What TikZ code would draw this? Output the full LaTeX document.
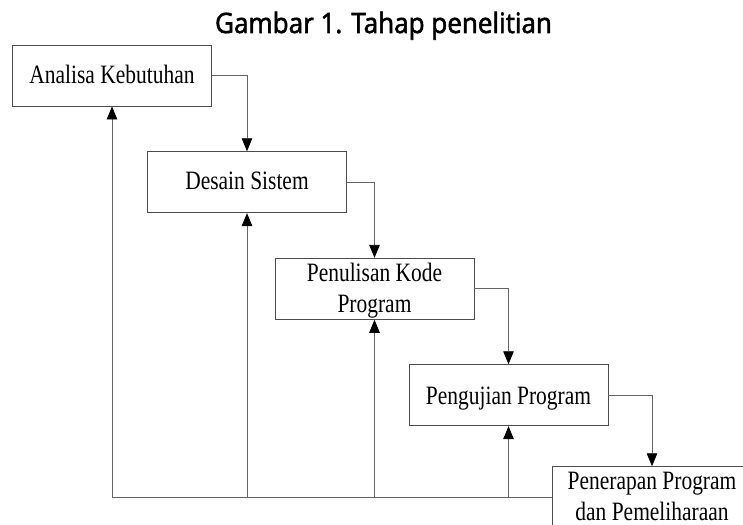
\documentclass[tikz,border=0pt]{standalone}
\usepackage{fontspec}
\setmainfont{Liberation Serif}
\newfontfamily\boxfont[FakeStretch=0.81]{Liberation Serif}
\newfontfamily\titlefont[FakeBold=2,FakeStretch=0.93]{Open Sans}
\usetikzlibrary{arrows.meta}
\begin{document}
\begin{tikzpicture}[x=1pt,y=-1pt,
  box/.style={draw=black!70, line width=0.9pt, minimum width=199pt, minimum height=61pt, inner sep=0pt, fill=white},
  lbl/.style={font=\boxfont\fontsize{26.5}{31}\selectfont, align=center, inner sep=0pt},
  flow/.style={draw=black!60, line width=0.8pt, -{Triangle[length=13pt,width=10.5pt,color=black,fill=black]}},
  base/.style={draw=black, line width=1.4pt},
]
\useasboundingbox (0,0) rectangle (743,524);
\clip (0,0) rectangle (743,524);
\node[font=\titlefont\fontsize{28}{32}\selectfont, anchor=base, inner sep=0pt] (title) at (383.5,33) {Gambar 1. Tahap penelitian};
\node[box] (A) at (112,75.5) {};
\node[box] (B) at (247,182.2) {};
\node[box] (C) at (374.5,288.8) {};
\node[box] (D) at (508.5,395.2) {};
\node[box] (E) at (652,497.2) {};
\node[lbl] (tA) at ([yshift=1.5pt]A.center) {Analisa Kebutuhan};
\node[lbl] (tB) at ([yshift=1.3pt]B.center) {Desain Sistem};
\node[lbl] (tC) at ([yshift=-2pt]C.center) {Penulisan Kode\\Program};
\node[lbl] (tD) at ([yshift=-3.5pt]D.center) {Pengujian Program};
\node[lbl] (tE) at ([yshift=1pt]E.center) {Penerapan Program\\dan Pemeliharaan};
\draw[flow] (A.east) -| (B.north);
\draw[flow] (B.east) -| (C.north);
\draw[flow] (C.east) -| (D.north);
\draw[flow] (D.east) -| (E.north);
\draw[base] (E.west) -- (B.south |- E.west);
\draw[flow] (E.west) -| (D.south);
\draw[flow] (E.west) -| (C.south);
\draw[flow] (E.west) -| (B.south);
\draw[flow] (E.west) -| (A.south);
\end{tikzpicture}
\end{document}
